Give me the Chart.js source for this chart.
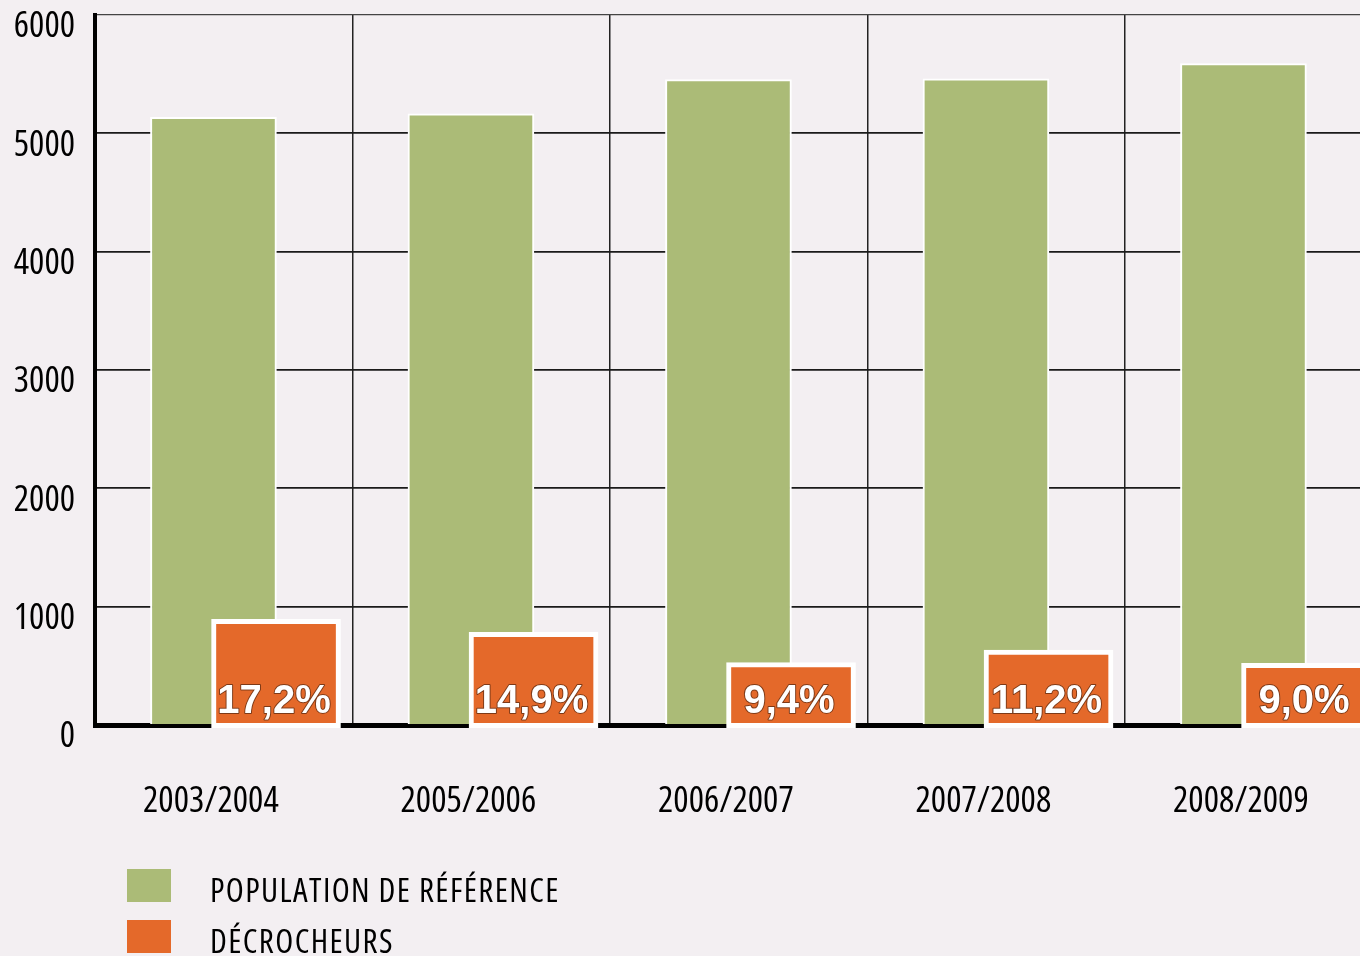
<!DOCTYPE html>
<html>
<head>
<meta charset="utf-8">
<script src="https://cdn.jsdelivr.net/npm/chart.js@4.4.0/dist/chart.umd.min.js"></script>
<style>
  html, body { margin: 0; padding: 0; background: #f3eff2; overflow: hidden; }
  #wrap { position: relative; width: 1360px; height: 956px; }
  #legend { position: absolute; left: 127px; top: 869px; }
  .item { display: flex; align-items: center; height: 33px; margin-bottom: 18px; }
  .box { width: 44px; height: 33px; }
  .txt { margin-left: 39px; position: relative; top: 4px;
         font-family: "Open Sans", sans-serif; font-size: 33px; font-stretch: condensed;
         letter-spacing: 1.4px; color: #000; white-space: nowrap; }
</style>
</head>
<body>
<div id="wrap">
  <canvas id="chart" width="1360" height="956"></canvas>
  <div id="legend"></div>
</div>
<script>
const categories = ["2003/2004", "2005/2006", "2006/2007", "2007/2008", "2008/2009"];
const population = [5135, 5165, 5455, 5460, 5590];
const decrocheurs = [893, 783, 527, 634, 521];
const taux = [17.2, 14.9, 9.4, 11.2, 9.0];
const yTicks = [0, 1000, 2000, 3000, 4000, 5000, 6000];

// position of each bar / label inside its slot (slot = 1 unit on the x scale)
const greenShift = 0.46;
const orangeShift = 0.703;
const labelShift = 0.45;

const vert = "#abbb77";
const orange = "#e4692a";
const narrow = '"Open Sans", sans-serif';

// white percentage inside the orange bars
const barLabels = {
  id: "barLabels",
  afterDatasetsDraw(chart) {
    const ctx = chart.ctx;
    const meta = chart.getDatasetMeta(1);
    const y = chart.scales.y.getPixelForValue(0) - 12;
    ctx.save();
    ctx.font = 'bold 40px "Liberation Sans", Arial, sans-serif';
    ctx.textAlign = "center";
    ctx.textBaseline = "alphabetic";
    ctx.lineJoin = "round";
    meta.data.forEach((bar, i) => {
      const txt = taux[i].toFixed(1).replace(".", ",") + "%";
      ctx.lineWidth = 2;
      ctx.strokeStyle = "rgba(0,0,0,0.45)";
      ctx.strokeText(txt, bar.x - 2, y);
      ctx.fillStyle = "#ffffff";
      ctx.fillText(txt, bar.x - 2, y);
    });
    ctx.restore();
  }
};

const xMax = (1360 - 95) / 257.5;

const chart = new Chart(document.getElementById("chart"), {
  type: "bar",
  data: {
    datasets: [
      {
        label: "POPULATION DE RÉFÉRENCE",
        data: population.map((v, i) => ({ x: i + greenShift, y: v })),
        backgroundColor: vert,
        borderColor: "#ffffff",
        borderWidth: 2,
        borderSkipped: "start",
        barThickness: 126,
        grouped: false,
        order: 1
      },
      {
        label: "DÉCROCHEURS",
        data: decrocheurs.map((v, i) => ({ x: i + orangeShift, y: v })),
        backgroundColor: orange,
        borderColor: "#ffffff",
        borderWidth: 5,
        borderSkipped: false,
        base: -22,
        clip: false,
        barThickness: 129,
        grouped: false,
        order: 0
      }
    ]
  },
  options: {
    responsive: false,
    animation: false,
    layout: { padding: { left: 0, top: 15, right: 0, bottom: 135 } },
    scales: {
      x: {
        type: "linear",
        offset: false,
        min: 0,
        max: xMax,
        afterBuildTicks: (scale) => {
          scale.ticks = categories.map((c, i) => ({ value: i }));
        },
        afterFit: (scale) => { scale.height = 0; scale.paddingLeft = 0; scale.paddingRight = 0; },
        ticks: { display: false },
        grid: { offset: false, color: "#222222", lineWidth: 1.5, drawTicks: false },
        border: { display: true, color: "#000000", width: 5 }
      },
      xl: {
        type: "linear",
        position: "bottom",
        offset: false,
        min: 0,
        max: xMax,
        afterBuildTicks: (scale) => {
          scale.ticks = categories.map((c, i) => ({ value: i + labelShift }));
        },
        afterFit: (scale) => { scale.height = 96; scale.paddingLeft = 0; scale.paddingRight = 0; },
        ticks: {
          padding: 55,
          color: "#000000",
          font: { family: narrow, size: 36, weight: "condensed" },
          callback: (v, i) => categories[i]
        },
        grid: { display: false, offset: false, drawTicks: false },
        border: { display: false }
      },
      y: {
        min: 0,
        max: 6000,
        afterBuildTicks: (scale) => {
          scale.ticks = yTicks.map((v) => ({ value: v }));
        },
        afterFit: (scale) => { scale.width = 95; scale.paddingTop = 0; scale.paddingBottom = 0; },
        ticks: {
          padding: 20,
          labelOffset: 12,
          color: "#000000",
          font: { family: narrow, size: 36, weight: "condensed" },
          callback: (v) => String(v)
        },
        grid: {
          drawTicks: false,
          color: (c) => (c.tick && c.tick.value === 6000 ? "#444444" : "#1a1a1a"),
          lineWidth: (c) => (c.tick && c.tick.value === 6000 ? 1.2 : 1.8)
        },
        border: { display: true, color: "#000000", width: 4 }
      }
    },
    plugins: {
      legend: { display: false },
      tooltip: { enabled: false }
    }
  },
  plugins: [barLabels]
});

// legend under the chart, one line per series
const items = chart.options.plugins.legend.labels.generateLabels(chart)
  .sort((a, b) => a.datasetIndex - b.datasetIndex);
const legendDiv = document.getElementById("legend");
items.forEach((it) => {
  const row = document.createElement("div");
  row.className = "item";
  const box = document.createElement("span");
  box.className = "box";
  box.style.background = it.fillStyle;
  const txt = document.createElement("span");
  txt.className = "txt";
  txt.textContent = it.text;
  row.appendChild(box);
  row.appendChild(txt);
  legendDiv.appendChild(row);
});
</script>
</body>
</html>
